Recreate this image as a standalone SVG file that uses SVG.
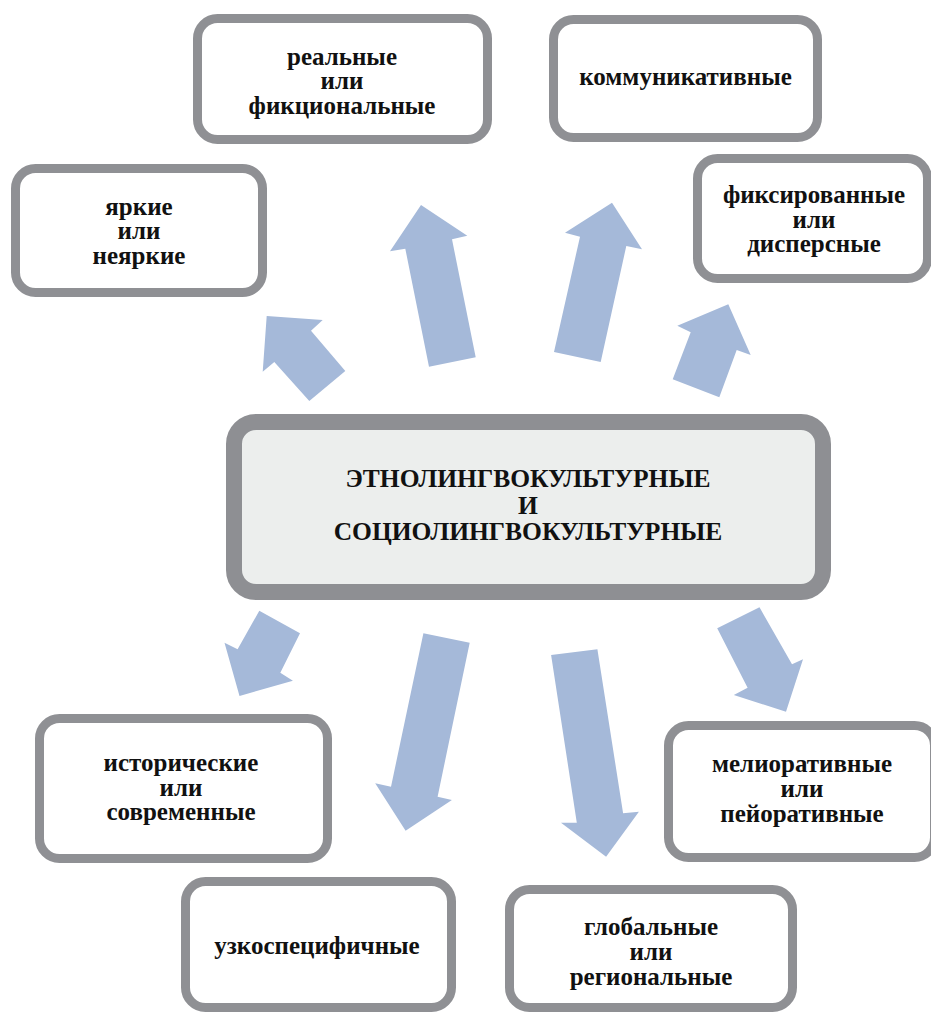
<svg xmlns="http://www.w3.org/2000/svg" width="931" height="1012" viewBox="0 0 931 1012">
<style>
.box{fill:#ffffff;stroke:#8f9094;stroke-width:9}
.center{fill:#eceeed;stroke:#8e8f93;stroke-width:16}
.arrow{fill:#a5b9d9;stroke:none}
.lbl{font-family:'Liberation Serif','Times New Roman','DejaVu Serif',serif;font-weight:700;fill:#111111;text-anchor:middle;font-size:25px}
.big{font-size:25.5px}
</style>
<rect width="931" height="1012" fill="#ffffff"/>
<g id="connectors">
<polygon class="arrow" points="266.7,316 322.7,320 311,330.7 345.3,371 309.3,401 274.3,362 262.7,371.7"/>
<polygon class="arrow" points="421,205 467.3,235.7 452,239.3 475.7,357.3 429,366.7 405.3,248.7 390,251.3"/>
<polygon class="arrow" points="612,202.7 642,249.3 626.3,246 600.7,362 554,352 580,236.7 565,232.7"/>
<polygon class="arrow" points="728.3,304.3 750.7,355 736.7,350 719.3,397.3 672.7,379.3 690.7,332.3 677.3,325.7"/>
<polygon class="arrow" points="239.5,696 292.9,680.7 280.3,672.7 300,633.3 259.3,610.7 237.6,649.3 224.5,642.7"/>
<polygon class="arrow" points="405.6,830.7 451.9,800 437.6,796.7 469.7,642.7 423.4,633.3 391,786.7 375.2,783.3"/>
<polygon class="arrow" points="606.1,856.7 638.9,811.7 623.1,813.3 597.4,649.3 551.1,655 576.8,822.7 561,822.7"/>
<polygon class="arrow" points="786,711.7 803,659.3 792,664.3 759.5,607.3 717.2,628.3 747.6,687.7 733.8,695"/>
</g>
<g id="node-center">
<rect class="center" x="234" y="422" width="589" height="170" rx="22"/>
<text class="lbl big" x="528" y="487">ЭТНОЛИНГВОКУЛЬТУРНЫЕ<tspan x="528" dy="26.5">И</tspan><tspan x="528" dy="26.5">СОЦИОЛИНГВОКУЛЬТУРНЫЕ</tspan></text>
</g>
<g id="node-real">
<rect class="box" x="197.5" y="18.5" width="290" height="121" rx="20"/>
<text class="lbl" x="342" y="64.5">реальные<tspan x="342" dy="24.5">или</tspan><tspan x="342" dy="24.5">фикциональные</tspan></text>
</g>
<g id="node-komm">
<rect class="box" x="553.5" y="19.5" width="264" height="118" rx="20"/>
<text class="lbl" x="685.5" y="85">коммуникативные</text>
</g>
<g id="node-fiks">
<rect class="box" x="697.5" y="158.5" width="230" height="120" rx="20"/>
<text class="lbl" x="814" y="203">фиксированные<tspan x="814" dy="24.5">или</tspan><tspan x="814" dy="24.5">дисперсные</tspan></text>
</g>
<g id="node-yarkie">
<rect class="box" x="15.5" y="168.5" width="247" height="124" rx="20"/>
<text class="lbl" x="139" y="214.5">яркие<tspan x="139" dy="24.5">или</tspan><tspan x="139" dy="24.5">неяркие</tspan></text>
</g>
<g id="node-istor">
<rect class="box" x="39.5" y="718.5" width="288" height="140" rx="20"/>
<text class="lbl" x="181" y="771">исторические<tspan x="181" dy="24.5">или</tspan><tspan x="181" dy="24.5">современные</tspan></text>
</g>
<g id="node-melior">
<rect class="box" x="668.5" y="725.5" width="266" height="132" rx="20"/>
<text class="lbl" x="802" y="772">мелиоративные<tspan x="802" dy="25">или</tspan><tspan x="802" dy="25">пейоративные</tspan></text>
</g>
<g id="node-uzko">
<rect class="box" x="185.5" y="881.5" width="266" height="126" rx="20"/>
<text class="lbl" x="317" y="954">узкоспецифичные</text>
</g>
<g id="node-glob">
<rect class="box" x="509.5" y="889.5" width="283" height="118" rx="20"/>
<text class="lbl" x="651" y="935">глобальные<tspan x="651" dy="25">или</tspan><tspan x="651" dy="25">региональные</tspan></text>
</g>
</svg>
